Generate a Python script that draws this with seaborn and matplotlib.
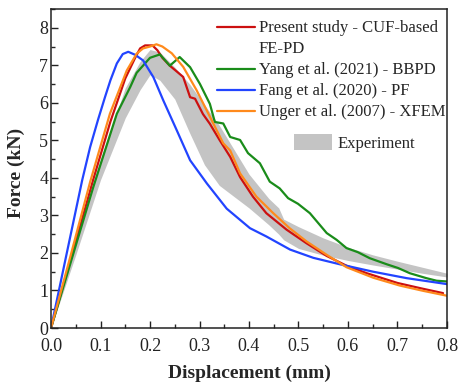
import numpy as np
import pandas as pd
import matplotlib
matplotlib.use("Agg")
import matplotlib.pyplot as plt
from matplotlib.lines import Line2D
from matplotlib.patches import Patch
from matplotlib.ticker import MultipleLocator
import seaborn as sns

# Force-displacement curves (displacement in mm, force in kN)
present_x = [0, 0.05, 0.085, 0.12, 0.15, 0.17, 0.18, 0.19, 0.205, 0.215, 0.225, 0.24, 0.25,
             0.267, 0.281, 0.291, 0.307, 0.321, 0.341, 0.362, 0.382, 0.408, 0.435, 0.476,
             0.516, 0.557, 0.597, 0.638, 0.7, 0.75, 0.792]
present_y = [0, 2.3, 3.94, 5.5, 6.65, 7.2, 7.45, 7.53, 7.53, 7.4, 7.2, 6.99, 6.88,
             6.69, 6.15, 6.11, 5.7, 5.44, 5.0, 4.56, 4.02, 3.5, 3.06, 2.62,
             2.26, 1.92, 1.66, 1.46, 1.2, 1.05, 0.93]

yang_x = [0, 0.0855, 0.133, 0.16, 0.173, 0.2, 0.22, 0.24, 0.26, 0.281, 0.301, 0.321, 0.331,
          0.348, 0.362, 0.382, 0.398, 0.422, 0.442, 0.462, 0.479, 0.499, 0.523, 0.557,
          0.577, 0.597, 0.62, 0.644, 0.678, 0.701, 0.725, 0.758, 0.779, 0.8]
yang_y = [0, 3.76, 5.71, 6.42, 6.8, 7.2, 7.29, 6.99, 7.22, 6.95, 6.5, 5.97, 5.49,
          5.45, 5.09, 5.01, 4.66, 4.39, 3.9, 3.72, 3.46, 3.31, 3.06, 2.53,
          2.35, 2.13, 2.02, 1.86, 1.70, 1.60, 1.46, 1.33, 1.26, 1.24]

fang_x = [0, 0.03, 0.063, 0.079, 0.095, 0.109, 0.12, 0.133, 0.145, 0.156, 0.17, 0.186,
          0.207, 0.227, 0.254, 0.281, 0.315, 0.355, 0.402, 0.435, 0.483, 0.53, 0.583,
          0.651, 0.718, 0.8]
fang_y = [0, 1.88, 3.94, 4.82, 5.55, 6.15, 6.6, 7.05, 7.3, 7.36, 7.28, 7.13,
          6.68, 6.06, 5.27, 4.47, 3.85, 3.18, 2.66, 2.44, 2.09, 1.87, 1.7,
          1.5, 1.33, 1.17]

unger_x = [0, 0.04, 0.079, 0.119, 0.153, 0.173, 0.186, 0.2, 0.213, 0.225, 0.244, 0.267,
           0.294, 0.321, 0.348, 0.362, 0.382, 0.415, 0.449, 0.482, 0.516, 0.557, 0.597,
           0.651, 0.705, 0.752, 0.8]
unger_y = [0, 1.95, 3.89, 5.71, 6.86, 7.31, 7.45, 7.5, 7.56, 7.5, 7.32, 6.96,
           6.34, 5.63, 4.92, 4.73, 4.12, 3.5, 3.06, 2.66, 2.31, 1.95, 1.62,
           1.34, 1.13, 0.99, 0.86]

# Experimental envelope
exp_x = [0, 0.05, 0.10, 0.15, 0.18, 0.20, 0.22, 0.25, 0.28, 0.31, 0.34, 0.37, 0.40,
         0.44, 0.46, 0.47, 0.50, 0.55, 0.60, 0.65, 0.70, 0.75, 0.80]
exp_upper = [0, 2.3, 4.5, 6.4, 7.1, 7.42, 7.35, 6.95, 6.5, 5.95, 5.4, 4.75, 4.1,
             3.45, 3.2, 2.9, 2.7, 2.4, 2.15, 1.95, 1.78, 1.62, 1.46]
exp_lower = [0, 1.95, 3.95, 5.6, 6.35, 6.75, 6.6, 6.1, 5.2, 4.35, 3.8, 3.5, 3.2,
             2.75, 2.5, 2.35, 2.12, 1.94, 1.8, 1.68, 1.57, 1.46, 1.36]

x_ticks = [0.0, 0.1, 0.2, 0.3, 0.4, 0.5, 0.6, 0.7, 0.8]
y_ticks = [0, 1, 2, 3, 4, 5, 6, 7, 8]

labels = ["Present study - CUF-based", "Yang et al. (2021) - BBPD",
          "Fang et al. (2020) - PF", "Unger et al. (2007) - XFEM"]
colors = ["#cc1010", "#1a8c1a", "#2244ff", "#ff8a1c"]

frames = []
for lab, xs, ys in zip(labels, [present_x, yang_x, fang_x, unger_x],
                       [present_y, yang_y, fang_y, unger_y]):
    frames.append(pd.DataFrame({"Displacement": xs, "Force": ys, "Model": lab}))
df = pd.concat(frames, ignore_index=True)

sns.set_style("ticks")
plt.rcParams["font.family"] = ["Liberation Serif", "DejaVu Serif"]

fig = plt.figure(figsize=(4.6, 3.85), dpi=100)
ax = fig.add_axes([0.1109, 0.148, 0.8608, 0.8286])

ax.fill_between(exp_x, exp_lower, exp_upper, color="#c4c4c4", linewidth=0, zorder=1)

sns.lineplot(data=df, x="Displacement", y="Force", hue="Model", hue_order=labels,
             palette=colors, linewidth=1.6, sort=False, estimator=None,
             legend=False, ax=ax, zorder=2)

ax.set_xlim(0, 0.8)
ax.set_ylim(0, 8.5)
ax.set_xticks(x_ticks)
ax.set_xticklabels([f"{v:.1f}" for v in x_ticks])
ax.set_yticks(y_ticks)
ax.set_yticklabels([str(v) for v in y_ticks])
ax.xaxis.set_minor_locator(MultipleLocator(0.05))
ax.yaxis.set_minor_locator(MultipleLocator(0.5))
ax.tick_params(which="major", direction="in", length=5, width=1, labelsize=13,
               colors="#222222")
ax.tick_params(axis="x", which="major", pad=7)
ax.tick_params(axis="y", which="major", pad=2)
ax.tick_params(which="minor", direction="in", length=3, width=1)
for s in ax.spines.values():
    s.set_linewidth(1.1)
    s.set_color("#222222")

ax.set_xlabel("Displacement (mm)", fontsize=14, fontweight="bold", labelpad=7)
ax.set_ylabel("Force (kN)", fontsize=14, fontweight="bold")
ax.yaxis.set_label_coords(-0.066, 0.486)

handles = [Line2D([], [], color=colors[0], lw=1.6),
           Line2D([], [], color="none"),
           Line2D([], [], color=colors[1], lw=1.6),
           Line2D([], [], color=colors[2], lw=1.6),
           Line2D([], [], color=colors[3], lw=1.6)]
leg_labels = [labels[0], "FE-PD", labels[1], labels[2], labels[3]]
fig.legend(handles, leg_labels, loc="upper left",
           bbox_to_anchor=(0.471, 0.947), frameon=False, fontsize=12,
           handlelength=2.3, handletextpad=0.24, labelspacing=0.3,
           borderpad=0, borderaxespad=0)
fig.legend([Patch(facecolor="#c4c4c4", edgecolor="none")], ["Experiment"],
           loc="upper left", bbox_to_anchor=(0.639, 0.652), frameon=False,
           fontsize=12, handlelength=2.3, handleheight=1.1,
           handletextpad=0.34, borderpad=0, borderaxespad=0)

fig.savefig("out.png", dpi=100)
